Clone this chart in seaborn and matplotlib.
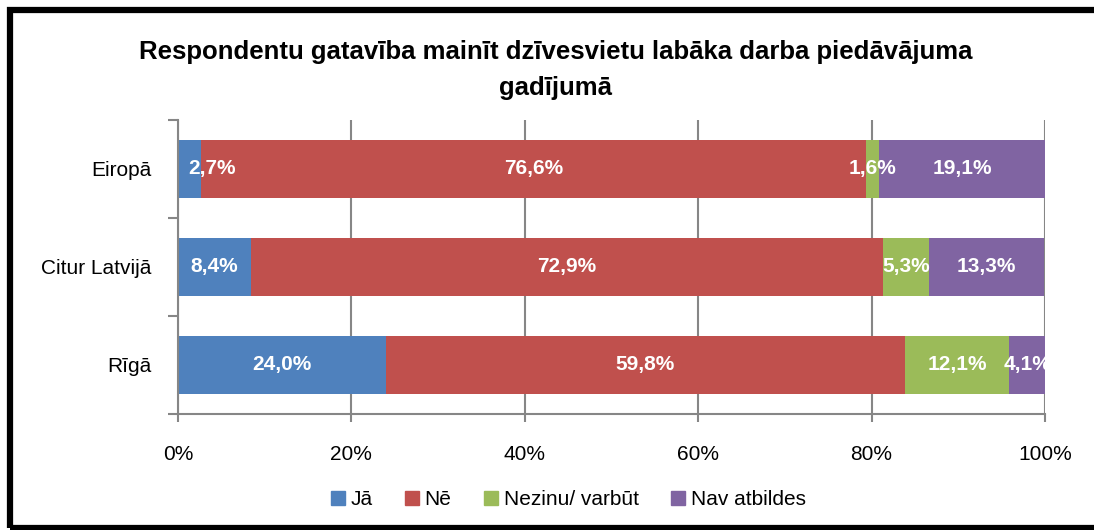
import pandas as pd
import numpy as np
import matplotlib.pyplot as plt
import seaborn as sns
from matplotlib.patches import Rectangle
from matplotlib.lines import Line2D

# data
regions = ['Eiropā', 'Citur Latvijā', 'Rīgā']
answers = ['Jā', 'Nē', 'Nezinu/ varbūt', 'Nav atbildes']
ja = [2.7, 8.4, 24.0]
ne = [76.6, 72.9, 59.8]
nezinu = [1.6, 5.3, 12.1]
nav = [19.1, 13.3, 4.1]
colors = ['#4F81BD', '#C0504D', '#9BBB59', '#8064A2']
xticks = [0, 20, 40, 60, 80, 100]

df = pd.DataFrame({'region': regions, 'Jā': ja, 'Nē': ne,
                   'Nezinu/ varbūt': nezinu, 'Nav atbildes': nav})
cum = df[answers].cumsum(axis=1)
cum['region'] = df['region']

sns.set_theme(style='white')
plt.rcParams['font.family'] = ['Liberation Sans', 'DejaVu Sans']
plt.rcParams['text.color'] = 'black'
plt.rcParams['xtick.color'] = 'black'
plt.rcParams['ytick.color'] = 'black'

fig = plt.figure(figsize=(10.94, 5.30), dpi=100)
ax = fig.add_axes([0.1627, 0.2189, 0.7925, 0.5547])

# stacked bars: draw cumulative totals from the largest down
for col, c in zip(answers[::-1], colors[::-1]):
    sns.barplot(data=cum, x=col, y='region', order=regions, color=c,
                orient='h', width=0.59, linewidth=0, saturation=1, ax=ax, zorder=3)

# value labels centred in each segment
for i, reg in enumerate(regions):
    start = 0
    for col in answers:
        v = df.loc[i, col]
        mid = start + v / 2
        txt = f'{v:.1f}'.replace('.', ',') + '%'
        if start == 0 and v < 5:
            ax.text(start + 1.2, i, txt, ha='left', va='center', color='white',
                    fontsize=15, fontweight='bold', zorder=5)
        else:
            ax.text(mid, i, txt, ha='center', va='center', color='white',
                    fontsize=15, fontweight='bold', zorder=5)
        start += v

ax.set_xlim(0, 100)
ax.set_ylim(2.5, -0.5)
ax.set_xticks(xticks)
ax.set_xticklabels([f'{t}%' for t in xticks], fontsize=15)
ax.set_yticks(range(len(regions)))
ax.set_yticklabels(regions, fontsize=15)
ax.set_yticks([-0.5, 0.5, 1.5, 2.5], minor=True)
ax.tick_params(axis='y', which='major', length=0, pad=19)
ax.tick_params(axis='y', which='minor', length=7, width=1.5, color='#868686', direction='out', left=True)
ax.tick_params(axis='x', length=6, width=1.5, color='#868686', labelcolor='black',
               direction='out', bottom=True, pad=16)
ax.set_xlabel('')
ax.set_ylabel('')
ax.xaxis.grid(True, color='#868686', linewidth=1.5, zorder=0)
ax.set_axisbelow(True)
for s in ['top', 'right']:
    ax.spines[s].set_visible(False)
for s in ['left', 'bottom']:
    ax.spines[s].set_color('#868686')
    ax.spines[s].set_linewidth(1.5)
    ax.spines[s].set_zorder(4)

fig.suptitle('Respondentu gatavība mainīt dzīvesvietu labāka darba piedāvājuma\ngadījumā',
             x=0.508, y=0.925, fontsize=18.5, fontweight='bold', linespacing=1.65)

handles = [Line2D([], [], marker='s', linestyle='', markersize=10, color=c) for c in colors]
fig.legend(handles, answers, loc='center', bbox_to_anchor=(0.518, 0.057), ncol=4,
           frameon=False, fontsize=15, handletextpad=0.1, columnspacing=1.4,
           handlelength=1.0)

fig.add_artist(Rectangle((10 / 1094, 0.003), 1.05, 1 - 10 / 530 - 0.003, transform=fig.transFigure,
                         fill=False, edgecolor='black', linewidth=4.5))

fig.savefig('out.png', dpi=100)
